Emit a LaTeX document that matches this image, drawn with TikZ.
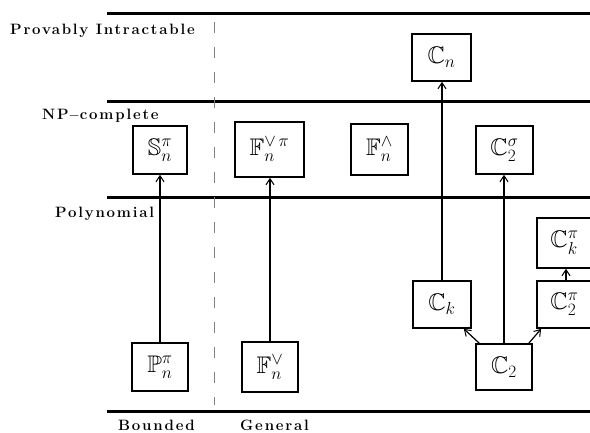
\documentclass[tikz,border=0pt]{standalone}
\usepackage{amssymb}
\usepackage{fontspec}
\newfontfamily\labfont[LetterSpace=12]{Latin Modern Roman}
\usetikzlibrary{arrows.meta}
\begin{document}
\begin{tikzpicture}[x=1pt,y=-1pt,
  level/.style={line width=3pt},
  lab/.style={anchor=base west,inner sep=0pt,font=\labfont\bfseries\fontsize{15}{18}\selectfont},
  cbox/.style={draw,line width=1.7pt,inner sep=0pt,font=\fontsize{24}{28}\selectfont},
  arr/.style={-{Straight Barb[length=6pt,width=8pt,line width=1pt]}},
]
\useasboundingbox (0,0) rectangle (590,432);
% level lines
\coordinate (l1a) at (107,13);  \coordinate (l1b) at (595,13);
\coordinate (l2a) at (107,101); \coordinate (l2b) at (595,101);
\coordinate (l3a) at (107,197); \coordinate (l3b) at (595,197);
\coordinate (l4a) at (107,411); \coordinate (l4b) at (595,411);
\draw[level] (l1a) -- (l1b);
\draw[level] (l2a) -- (l2b);
\draw[level] (l3a) -- (l3b);
\draw[level] (l4a) -- (l4b);
% dashed divider
\coordinate (da) at (214,22); \coordinate (db) at (214,405);
\draw[gray,line width=1pt,dash pattern=on 11pt off 14pt] (da) -- (db);
% labels
\node[lab] (t1) at (10,34) {Provably Intractable};
\node[lab] (t2) at (42,119) {NP$-$complete};
\node[lab] (t3) at (55,217) {Polynomial};
\node[lab] (t4) at (118,430) {Bounded};
\node[lab] (t5) at (240,430) {General};
% boxes
\node[cbox,minimum width=59pt,minimum height=47pt] (Cn) at (441.5,57.5) {$\mathbb{C}_n$};
\node[cbox,minimum width=54pt,minimum height=48pt] (S) at (160,150) {$\mathbb{S}_n^\pi$};
\node[cbox,minimum width=69pt,minimum height=55pt] (Fvp) at (269.5,149.5) {$\mathbb{F}_n^{\vee\,\pi}$};
\node[cbox,minimum width=57pt,minimum height=51pt] (Fw) at (379.5,149.5) {$\mathbb{F}_n^\wedge$};
\node[cbox,minimum width=57pt,minimum height=48pt] (C2s) at (504.5,150) {$\mathbb{C}_2^\sigma$};
\node[cbox,minimum width=55pt,minimum height=50pt] (Ckp) at (564.5,243) {$\mathbb{C}_k^\pi$};
\node[cbox,minimum width=55pt,minimum height=47pt] (C2p) at (564.5,304.5) {$\mathbb{C}_2^\pi$};
\node[cbox,minimum width=58pt,minimum height=47pt] (Ck) at (442,304.5) {$\mathbb{C}_k$};
\node[cbox,minimum width=56pt,minimum height=46pt] (C2) at (504,367) {$\mathbb{C}_2$};
\node[cbox,minimum width=56pt,minimum height=48pt] (P) at (160,367) {$\mathbb{P}_n^\pi$};
\node[cbox,minimum width=56pt,minimum height=50pt] (Fv) at (270,367) {$\mathbb{F}_n^\vee$};
% arrows
\draw[arr,line width=1.5pt] (P) -- (S);
\draw[arr,line width=2.4pt] (Fv.north) -- (Fvp.south -| Fv.north);
\draw[arr,line width=2.8pt] (Ck.north) -- (Cn.south -| Ck.north);
\draw[arr,line width=1.5pt] (C2.north) -- (C2s.south -| C2.north);
\draw[arr,line width=1.2pt] ([xshift=4pt]C2.north west) -- ([xshift=-8pt]Ck.south east);
\draw[arr,line width=1.2pt] ([xshift=-4pt]C2.north east) -- ([xshift=5pt]C2p.south west);
\draw[arr,line width=1.5pt] ([xshift=1.5pt]C2p.north) -- ([xshift=1.5pt]Ckp.south);
\end{tikzpicture}
\end{document}
